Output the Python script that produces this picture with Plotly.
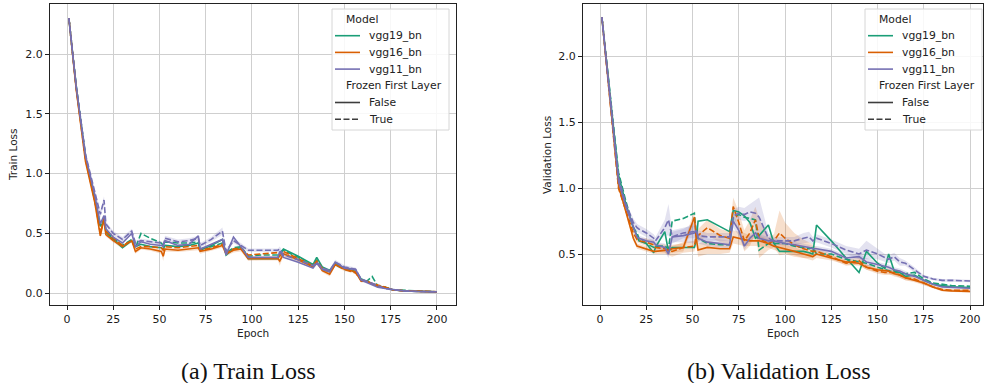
import numpy as np
import plotly.graph_objects as go

# ---------------- data ----------------
MODELS = ["vgg19_bn", "vgg16_bn", "vgg11_bn"]
FROZEN = ["False", "True"]
X_TICKS = [0, 25, 50, 75, 100, 125, 150, 175, 200]

T_EP = [1, 5, 10, 15, 18, 20, 21, 25, 30, 35, 37, 40, 45, 51, 52, 53, 60, 66, 71, 72, 78, 84, 86, 90, 94,
        98, 105, 114, 115, 117, 125, 133, 135, 138, 142, 145, 150, 156, 159, 162, 165, 168, 172, 176, 182, 190, 200]

T_VGG19_F = [2.30, 1.72, 1.14, 0.79, 0.56, 0.60, 0.51, 0.45, 0.38, 0.44, 0.39, 0.41, 0.39, 0.38, 0.37,
             0.40, 0.39, 0.40, 0.42, 0.36, 0.40, 0.45, 0.32, 0.37, 0.38, 0.29, 0.29, 0.29, 0.33, 0.37,
             0.31, 0.24, 0.30, 0.22, 0.19, 0.25, 0.21, 0.18, 0.12, 0.10, 0.08, 0.06, 0.05, 0.03, 0.02, 0.015, 0.012]
T_VGG19_T = [2.30, 1.73, 1.15, 0.80, 0.57, 0.62, 0.53, 0.46, 0.40, 0.45, 0.38, 0.50, 0.46, 0.42, 0.40,
             0.43, 0.42, 0.42, 0.43, 0.37, 0.39, 0.42, 0.34, 0.38, 0.39, 0.31, 0.32, 0.32, 0.34, 0.36,
             0.30, 0.22, 0.28, 0.20, 0.18, 0.24, 0.20, 0.18, 0.11, 0.10, 0.14, 0.06, 0.05, 0.03, 0.025, 0.015, 0.012]
T_VGG16_F = [2.30, 1.70, 1.10, 0.76, 0.48, 0.62, 0.49, 0.44, 0.39, 0.44, 0.35, 0.38, 0.37, 0.35, 0.31,
             0.37, 0.36, 0.37, 0.38, 0.35, 0.37, 0.40, 0.33, 0.36, 0.37, 0.29, 0.29, 0.29, 0.27, 0.33,
             0.28, 0.22, 0.26, 0.19, 0.16, 0.24, 0.20, 0.18, 0.10, 0.10, 0.08, 0.06, 0.05, 0.03, 0.02, 0.015, 0.012]
T_VGG16_T = [2.30, 1.71, 1.12, 0.78, 0.50, 0.63, 0.52, 0.46, 0.40, 0.44, 0.37, 0.39, 0.39, 0.38, 0.36,
             0.39, 0.38, 0.39, 0.40, 0.36, 0.38, 0.41, 0.34, 0.37, 0.38, 0.32, 0.33, 0.34, 0.31, 0.35,
             0.29, 0.23, 0.27, 0.21, 0.18, 0.24, 0.20, 0.17, 0.11, 0.10, 0.08, 0.07, 0.05, 0.03, 0.02, 0.015, 0.013]
T_VGG11_F = [2.30, 1.72, 1.15, 0.82, 0.58, 0.65, 0.54, 0.47, 0.42, 0.50, 0.39, 0.43, 0.41, 0.40, 0.39,
             0.44, 0.40, 0.41, 0.48, 0.37, 0.41, 0.45, 0.32, 0.47, 0.39, 0.30, 0.30, 0.30, 0.35, 0.30,
             0.26, 0.21, 0.25, 0.20, 0.18, 0.26, 0.21, 0.20, 0.11, 0.09, 0.07, 0.05, 0.04, 0.03, 0.02, 0.015, 0.012]
T_VGG11_T = [2.30, 1.73, 1.16, 0.84, 0.66, 0.78, 0.58, 0.50, 0.45, 0.52, 0.42, 0.44, 0.43, 0.42, 0.40,
             0.46, 0.43, 0.44, 0.46, 0.40, 0.45, 0.52, 0.35, 0.44, 0.40, 0.36, 0.36, 0.36, 0.37, 0.32,
             0.28, 0.23, 0.26, 0.21, 0.19, 0.26, 0.22, 0.20, 0.12, 0.10, 0.08, 0.06, 0.04, 0.03, 0.02, 0.015, 0.012]
# confidence half-widths
T_CI_VGG16_F = [0.0, 0.01, 0.015, 0.015, 0.02, 0.02, 0.015, 0.015, 0.015, 0.015, 0.02, 0.015, 0.015, 0.02, 0.04,
                0.02, 0.015, 0.015, 0.02, 0.02, 0.015, 0.02, 0.02, 0.02, 0.02, 0.02, 0.015, 0.015, 0.04, 0.02,
                0.015, 0.015, 0.015, 0.015, 0.02, 0.015, 0.015, 0.015, 0.01, 0.01, 0.01, 0.01, 0.005, 0.005, 0.005, 0.0, 0.0]
T_CI_VGG11_T = [0.0, 0.01, 0.015, 0.02, 0.03, 0.03, 0.02, 0.02, 0.02, 0.02, 0.02, 0.015, 0.015, 0.015, 0.02,
                0.02, 0.02, 0.02, 0.02, 0.02, 0.02, 0.03, 0.02, 0.02, 0.02, 0.015, 0.015, 0.015, 0.02, 0.02,
                0.015, 0.015, 0.015, 0.015, 0.015, 0.02, 0.015, 0.015, 0.01, 0.01, 0.01, 0.01, 0.005, 0.005, 0.005, 0.0, 0.0]

V_EP = [1, 5, 10, 14, 18, 20, 21, 25, 29, 30, 35, 37, 39, 45, 51, 52, 53, 58, 65, 70, 72, 75, 78, 81, 84,
        86, 91, 94, 97, 100, 105, 110, 113, 115, 117, 125, 133, 140, 144, 150, 154, 156, 159, 162, 165,
        170, 175, 180, 185, 190, 200]

V_VGG19_F = [2.30, 1.75, 1.10, 0.88, 0.70, 0.64, 0.60, 0.58, 0.51, 0.55, 0.67, 0.52, 0.55, 0.55, 0.55,
             0.60, 0.75, 0.76, 0.71, 0.67, 0.83, 0.82, 0.79, 0.74, 0.62, 0.64, 0.72, 0.58, 0.52, 0.52,
             0.52, 0.52, 0.51, 0.50, 0.72, 0.60, 0.47, 0.36, 0.52, 0.43, 0.39, 0.50, 0.37, 0.36, 0.33,
             0.34, 0.30, 0.27, 0.26, 0.25, 0.245]
V_VGG19_T = [2.30, 1.78, 1.12, 0.90, 0.70, 0.66, 0.62, 0.58, 0.55, 0.56, 0.56, 0.54, 0.75, 0.77, 0.81,
             0.65, 0.62, 0.58, 0.57, 0.57, 0.78, 0.80, 0.78, 0.77, 0.76, 0.53, 0.58, 0.58, 0.58, 0.58,
             0.56, 0.55, 0.54, 0.55, 0.50, 0.50, 0.46, 0.44, 0.43, 0.40, 0.38, 0.37, 0.36, 0.36, 0.35,
             0.36, 0.31, 0.28, 0.27, 0.26, 0.255]
V_VGG16_F = [2.30, 1.72, 1.02, 0.82, 0.62, 0.56, 0.555, 0.54, 0.52, 0.52, 0.53, 0.53, 0.54, 0.55, 0.78,
             0.62, 0.53, 0.55, 0.54, 0.54, 0.63, 0.62, 0.61, 0.60, 0.60, 0.60, 0.58, 0.56, 0.55, 0.54,
             0.52, 0.50, 0.49, 0.48, 0.50, 0.47, 0.44, 0.43, 0.40, 0.38, 0.37, 0.37, 0.35, 0.34, 0.32,
             0.30, 0.28, 0.25, 0.225, 0.22, 0.215]
V_VGG16_T = [2.30, 1.70, 1.00, 0.83, 0.66, 0.61, 0.60, 0.59, 0.57, 0.55, 0.54, 0.53, 0.52, 0.55, 0.56,
             0.64, 0.64, 0.70, 0.64, 0.62, 0.86, 0.74, 0.60, 0.66, 0.76, 0.62, 0.58, 0.60, 0.66, 0.62,
             0.57, 0.54, 0.53, 0.52, 0.52, 0.48, 0.43, 0.45, 0.40, 0.37, 0.36, 0.36, 0.36, 0.34, 0.32,
             0.31, 0.28, 0.25, 0.23, 0.225, 0.225]
V_VGG11_F = [2.30, 1.74, 1.05, 0.86, 0.70, 0.63, 0.62, 0.60, 0.59, 0.57, 0.55, 0.50, 0.63, 0.64, 0.66,
             0.68, 0.62, 0.59, 0.58, 0.57, 0.75, 0.68, 0.56, 0.62, 0.66, 0.62, 0.60, 0.60, 0.59, 0.58,
             0.57, 0.56, 0.55, 0.54, 0.54, 0.52, 0.47, 0.48, 0.44, 0.42, 0.41, 0.40, 0.38, 0.37, 0.35,
             0.33, 0.30, 0.27, 0.25, 0.245, 0.24]
V_VGG11_T = [2.30, 1.76, 1.08, 0.88, 0.74, 0.70, 0.69, 0.66, 0.62, 0.60, 0.70, 0.76, 0.63, 0.66, 0.67,
             0.68, 0.64, 0.63, 0.63, 0.63, 0.79, 0.81, 0.80, 0.82, 0.81, 0.78, 0.62, 0.60, 0.60, 0.60,
             0.60, 0.62, 0.63, 0.60, 0.62, 0.58, 0.53, 0.50, 0.53, 0.50, 0.47, 0.46, 0.48, 0.44, 0.43,
             0.38, 0.33, 0.31, 0.30, 0.30, 0.295]
V_CI_VGG16_F = [0, 0.01, 0.02, 0.02, 0.02, 0.02, 0.02, 0.02, 0.02, 0.02, 0.03, 0.03, 0.03, 0.03, 0.05,
                0.05, 0.05, 0.05, 0.04, 0.03, 0.05, 0.05, 0.05, 0.04, 0.04, 0.04, 0.03, 0.03, 0.03, 0.03,
                0.03, 0.03, 0.03, 0.03, 0.03, 0.02, 0.02, 0.02, 0.02, 0.02, 0.02, 0.02, 0.02, 0.02, 0.02,
                0.015, 0.015, 0.01, 0.01, 0.01, 0.01]
V_CI_VGG16_T = [0, 0.01, 0.02, 0.02, 0.02, 0.02, 0.02, 0.03, 0.03, 0.03, 0.03, 0.04, 0.04, 0.04, 0.04,
                0.05, 0.05, 0.06, 0.05, 0.05, 0.07, 0.08, 0.08, 0.10, 0.10, 0.15, 0.05, 0.05, 0.17, 0.12,
                0.09, 0.07, 0.06, 0.05, 0.03, 0.02, 0.02, 0.03, 0.02, 0.02, 0.02, 0.02, 0.02, 0.02, 0.02,
                0.015, 0.015, 0.01, 0.01, 0.01, 0.01]
V_CI_VGG11_F = [0, 0.01, 0.02, 0.02, 0.02, 0.02, 0.02, 0.02, 0.02, 0.02, 0.03, 0.03, 0.04, 0.05, 0.08,
                0.06, 0.04, 0.03, 0.03, 0.03, 0.05, 0.04, 0.03, 0.03, 0.03, 0.03, 0.03, 0.02, 0.02, 0.02,
                0.02, 0.02, 0.02, 0.02, 0.02, 0.02, 0.02, 0.02, 0.03, 0.02, 0.02, 0.02, 0.02, 0.02, 0.02,
                0.01, 0.01, 0.01, 0.01, 0.01, 0.01]
V_CI_VGG11_T = [0, 0.01, 0.02, 0.02, 0.03, 0.03, 0.03, 0.03, 0.03, 0.03, 0.06, 0.12, 0.05, 0.04, 0.05,
                0.04, 0.04, 0.03, 0.03, 0.03, 0.05, 0.05, 0.05, 0.06, 0.10, 0.15, 0.04, 0.03, 0.03, 0.03,
                0.03, 0.04, 0.04, 0.03, 0.03, 0.03, 0.03, 0.04, 0.07, 0.04, 0.03, 0.03, 0.03, 0.03, 0.02,
                0.02, 0.01, 0.01, 0.01, 0.01, 0.01]

CAPTIONS = ["(a) Train Loss", "(b) Validation Loss"]
Y_TITLES = ["Train Loss", "Validation Loss"]

# ---------------- style ----------------
W, H = 985, 383
COLORS = {"vgg19_bn": "#1b9e77", "vgg16_bn": "#d95f02", "vgg11_bn": "#7570b3"}
BAND = {"vgg19_bn": "rgba(27,158,119,0.2)", "vgg16_bn": "rgba(217,95,2,0.2)", "vgg11_bn": "rgba(117,112,179,0.2)"}
DASH = {"False": "solid", "True": "6px,2.5px"}
FONT = "DejaVu Sans"


def X(px):
    return px / W


def Y(py):
    return 1 - py / H


fig = go.Figure()

panels = [
    ("x", "y", T_EP, {("vgg19_bn", "False"): (T_VGG19_F, None), ("vgg19_bn", "True"): (T_VGG19_T, None),
                      ("vgg16_bn", "False"): (T_VGG16_F, T_CI_VGG16_F), ("vgg16_bn", "True"): (T_VGG16_T, None),
                      ("vgg11_bn", "False"): (T_VGG11_F, None), ("vgg11_bn", "True"): (T_VGG11_T, T_CI_VGG11_T)}),
    ("x2", "y2", V_EP, {("vgg19_bn", "False"): (V_VGG19_F, None), ("vgg19_bn", "True"): (V_VGG19_T, None),
                        ("vgg16_bn", "False"): (V_VGG16_F, V_CI_VGG16_F), ("vgg16_bn", "True"): (V_VGG16_T, V_CI_VGG16_T),
                        ("vgg11_bn", "False"): (V_VGG11_F, V_CI_VGG11_F), ("vgg11_bn", "True"): (V_VGG11_T, V_CI_VGG11_T)}),
]

for xa, ya, ep, series in panels:
    # bands first
    for (m, f), (vals, ci) in series.items():
        if ci is None:
            continue
        v = np.array(vals)
        c = np.array(ci)
        xs = list(ep) + list(ep)[::-1]
        ys = list(v + c) + list((v - c)[::-1])
        fig.add_trace(go.Scatter(x=xs, y=ys, xaxis=xa, yaxis=ya, fill="toself", fillcolor=BAND[m],
                                 line=dict(width=0), mode="lines", hoverinfo="skip", showlegend=False))
    for m in MODELS:
        for f in FROZEN:
            vals, _ = series[(m, f)]
            fig.add_trace(go.Scatter(x=ep, y=vals, xaxis=xa, yaxis=ya, mode="lines",
                                     line=dict(color=COLORS[m], width=1.6, dash=DASH[f]),
                                     name=f"{m} {f}", showlegend=False))

axis_common = dict(showgrid=True, gridcolor="#cfcfcf", gridwidth=1.2, showline=True, linecolor="#222",
                   linewidth=1, mirror=True, ticks="outside", ticklen=4, tickcolor="#222",
                   tickfont=dict(family=FONT, size=11, color="#1a1a1a"), zeroline=False)

fig.update_layout(
    width=W, height=H, margin=dict(l=0, r=0, t=0, b=0), paper_bgcolor="white", plot_bgcolor="white",
    showlegend=False,
    xaxis=dict(domain=[X(50), X(456)], range=[-9.2, 210.3], tickvals=X_TICKS, anchor="y", **axis_common),
    yaxis=dict(domain=[Y(305), Y(4)], range=[-0.098, 2.418], tickvals=[0, 0.5, 1.0, 1.5, 2.0],
               ticktext=["0.0", "0.5", "1.0", "1.5", "2.0"], anchor="x", **axis_common),
    xaxis2=dict(domain=[X(583), X(983)], range=[-9.2, 207], tickvals=X_TICKS, anchor="y2", **axis_common),
    yaxis2=dict(domain=[Y(305), Y(4)], range=[0.1125, 2.40], tickvals=[0.5, 1.0, 1.5, 2.0],
                ticktext=["0.5", "1.0", "1.5", "2.0"], anchor="x2", **axis_common),
)

annotations = []
shapes = []
# axis titles and captions
for cx, ycx, ytitle, cap, capx in [(253, 13, Y_TITLES[0], CAPTIONS[0], 248.5), (783, 547, Y_TITLES[1], CAPTIONS[1], 779)]:
    annotations.append(dict(x=X(cx), y=Y(333), xref="paper", yref="paper", text="Epoch", showarrow=False,
                            font=dict(family=FONT, size=10.5, color="#222"), xanchor="center", yanchor="middle"))
    annotations.append(dict(x=X(ycx), y=Y(155), xref="paper", yref="paper", text=ytitle, showarrow=False,
                            textangle=-90, font=dict(family=FONT, size=10.5, color="#222"),
                            xanchor="center", yanchor="middle"))
    annotations.append(dict(x=X(capx), y=Y(371), xref="paper", yref="paper", text=cap, showarrow=False,
                            font=dict(family="Liberation Serif", size=24, color="#111"),
                            xanchor="center", yanchor="middle"))

# legends (drawn)
rows = [("Model", None, None), ("vgg19_bn", COLORS["vgg19_bn"], "solid"), ("vgg16_bn", COLORS["vgg16_bn"], "solid"),
        ("vgg11_bn", COLORS["vgg11_bn"], "solid"), ("Frozen First Layer", None, None),
        ("False", "#3d3d3d", "solid"), ("True", "#3d3d3d", DASH["True"])]
for bx0, bx1 in [(332, 449), (865, 982)]:
    shapes.append(dict(type="rect", xref="paper", yref="paper", x0=X(bx0), x1=X(bx1), y0=Y(130), y1=Y(9),
                       line=dict(color="#d6d6d6", width=1), fillcolor="rgba(255,255,255,0.85)", layer="above"))
    for i, (lab, col, dsh) in enumerate(rows):
        ry = 19 + i * 16.7
        if col is None:
            annotations.append(dict(x=X(bx0 + 12), y=Y(ry), xref="paper", yref="paper", text=lab, showarrow=False,
                                    font=dict(family=FONT, size=10.8, color="#222"), xanchor="left", yanchor="middle"))
        else:
            shapes.append(dict(type="line", xref="paper", yref="paper", x0=X(bx0 + 3), x1=X(bx0 + 28),
                               y0=Y(ry), y1=Y(ry), line=dict(color=col, width=1.6, dash=dsh), layer="above"))
            annotations.append(dict(x=X(bx0 + 35), y=Y(ry), xref="paper", yref="paper", text=lab, showarrow=False,
                                    font=dict(family=FONT, size=10.8, color="#222"), xanchor="left", yanchor="middle"))

fig.update_layout(annotations=annotations, shapes=shapes)
fig.write_html("out.html")
